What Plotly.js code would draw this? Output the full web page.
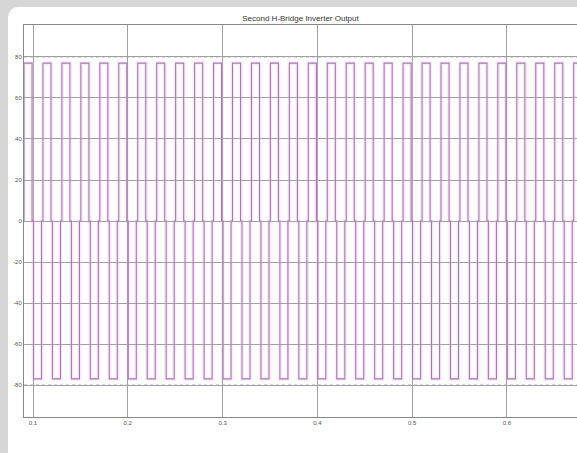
<!DOCTYPE html>
<html>
<head>
<meta charset="utf-8">
<script src="https://cdn.plot.ly/plotly-3.0.1.min.js"></script>
<style>
  html, body { margin:0; padding:0; background:#d6d6d6; width:577px; height:453px; overflow:hidden; }
  #chart { position:absolute; left:8px; top:7px; width:569px; height:446px; background:#fff; border-top-left-radius:10px; }
</style>
</head>
<body>
<div id="chart"></div>
<script>
// Switching instants (seconds)
const posOn  = [0.0905,0.1105,0.1305,0.1505,0.1705,0.1905,0.2105,0.2305,0.2505,0.2705,0.2905,0.3105,0.3305,0.3505,0.3705,0.3905,0.4105,0.4305,0.4505,0.4705,0.4905,0.5105,0.5305,0.5505,0.5705,0.5905,0.6105,0.6305,0.6505,0.6705];
const posOff = [0.0990,0.1190,0.1390,0.1590,0.1790,0.1990,0.2190,0.2390,0.2590,0.2790,0.2990,0.3190,0.3390,0.3590,0.3790,0.3990,0.4190,0.4390,0.4590,0.4790,0.4990,0.5190,0.5390,0.5590,0.5790,0.5990,0.6190,0.6390,0.6590,0.6790];
const negOn  = [0.1005,0.1205,0.1405,0.1605,0.1805,0.2005,0.2205,0.2405,0.2605,0.2805,0.3005,0.3205,0.3405,0.3605,0.3805,0.4005,0.4205,0.4405,0.4605,0.4805,0.5005,0.5205,0.5405,0.5605,0.5805,0.6005,0.6205,0.6405,0.6605,0.6805];
const negOff = [0.1090,0.1290,0.1490,0.1690,0.1890,0.2090,0.2290,0.2490,0.2690,0.2890,0.3090,0.3290,0.3490,0.3690,0.3890,0.4090,0.4290,0.4490,0.4690,0.4890,0.5090,0.5290,0.5490,0.5690,0.5890,0.6090,0.6290,0.6490,0.6690,0.6890];
// Output levels (V)
const levelHigh = [77];
const levelZero = [0];
const levelLow  = [-77];
// Tick labels
const xTicks = [0.1,0.2,0.3,0.4,0.5,0.6];
const xTickText = ['0.1','0.2','0.3','0.4','0.5','0.6'];
const yTicks = [-80,-60,-40,-20,0,20,40,60,80];
const yTickText = ['-80','-60','-40','-20','0','20','40','60','80'];
const refLevels = [80, -80];

const xs = [], ys = [];
for (let i = 0; i < posOn.length; i++) {
  xs.push(posOn[i], posOn[i], posOff[i], posOff[i], negOn[i], negOn[i], negOff[i], negOff[i]);
  ys.push(levelZero[0], levelHigh[0], levelHigh[0], levelZero[0], levelZero[0], levelLow[0], levelLow[0], levelZero[0]);
}

const traces = [
  { x: xs, y: ys, type: 'scatter', mode: 'lines', hoverinfo: 'skip',
    line: { color: 'rgba(235,170,235,0.25)', width: 4 }, showlegend: false },
  { x: xs, y: ys, type: 'scatter', mode: 'lines',
    line: { color: '#a47aae', width: 1.1 }, showlegend: false }
];

const shapes = refLevels.map(v => ({
  type: 'line', xref: 'paper', x0: 0, x1: 1, yref: 'y', y0: v, y1: v,
  line: { color: 'rgba(150,150,190,0.8)', width: 1, dash: 'dot' }, layer: 'below'
}));

const layout = {
  width: 569, height: 446,
  margin: { l: 16, r: 0, t: 18, b: 36 },
  paper_bgcolor: 'rgba(0,0,0,0)',
  plot_bgcolor: '#ffffff',
  title: { text: 'Second H-Bridge Inverter Output', x: 0.5, xref: 'paper',
           y: 1, yref: 'paper', yanchor: 'bottom', pad: { b: 4 },
           font: { family: 'Liberation Sans, Arial, sans-serif', size: 8, color: '#333' } },
  xaxis: { range: [0.0905, 0.674], tickvals: xTicks, ticktext: xTickText,
           showgrid: true, gridcolor: '#a0a0a0', gridwidth: 1, zeroline: false,
           showline: true, linecolor: '#888', mirror: true, ticks: '',
           tickfont: { family: 'Liberation Sans, Arial, sans-serif', size: 6, color: '#555' } },
  yaxis: { range: [-95.6, 95.6], tickvals: yTicks, ticktext: yTickText,
           showgrid: true, gridcolor: '#a0a0a0', gridwidth: 1, zeroline: false,
           showline: true, linecolor: '#888', mirror: true, ticks: '',
           tickfont: { family: 'Liberation Sans, Arial, sans-serif', size: 6, color: '#555' } },
  shapes: shapes
};

Plotly.newPlot('chart', traces, layout, { staticPlot: true, displayModeBar: false });
</script>
</body>
</html>
